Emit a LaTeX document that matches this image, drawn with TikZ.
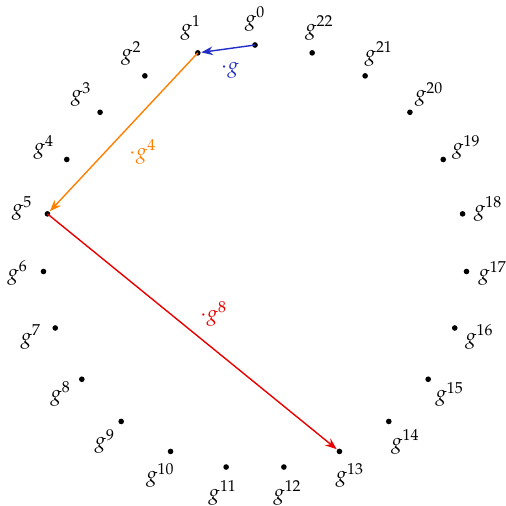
\documentclass[tikz,border=0pt]{standalone}
\usepackage{mathpazo}
\usetikzlibrary{arrows.meta,calc}
\definecolor{StepBlue}{RGB}{35,45,200}
\definecolor{StepOrange}{RGB}{255,128,0}
\definecolor{StepRed}{RGB}{235,0,0}

\begin{document}
\begin{tikzpicture}[x=1cm,y=1cm,>=Stealth,font=\large]
		\useasboundingbox (0,0) rectangle (10.12,10.12);
		\fill[white] (0,0) rectangle (10.12,10.12);
		
		\coordinate (C) at (5.10,4.98);
		
		% titik-titik g^k pada lingkaran
		\foreach \k in {0,...,22}{
			\coordinate (g\k) at ($(C)+({90+\k*360/23}:4.24)$);
			\fill (g\k) circle (1.6pt);
			\node (l\k) at ($(C)+({90+\k*360/23}:4.76)$) {$g^{\k}$};
		}
		
		% langkah perkalian
		\draw[StepBlue,line width=0.8pt,->,shorten >=2pt] (g0)--(g1)
		node[midway,below=4pt,xshift=2pt] {$\cdot g$};
		\draw[StepOrange,line width=0.8pt,->,shorten >=2pt] (g1)--(g5)
		node[midway,below right=0pt] {$\cdot g^4$};
		\draw[StepRed,line width=0.8pt,->,shorten >=2pt] (g5)--(g13)
		node[midway,above right=0pt] {$\cdot g^8$};
	\end{tikzpicture}
\end{document}
